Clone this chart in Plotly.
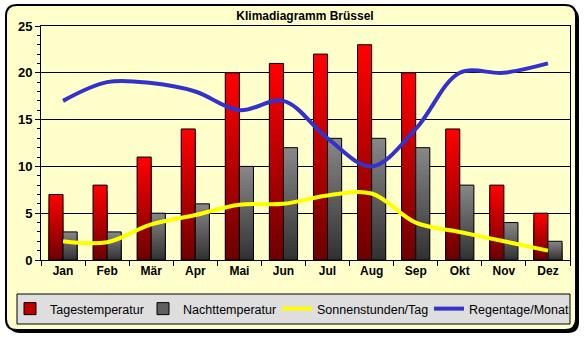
import plotly.graph_objects as go

months = ["Jan", "Feb", "Mär", "Apr", "Mai", "Jun", "Jul", "Aug", "Sep", "Okt", "Nov", "Dez"]
tages = [7, 8, 11, 14, 20, 21, 22, 23, 20, 14, 8, 5]
nacht = [3, 3, 5, 6, 10, 12, 13, 13, 12, 8, 4, 2]
sonne = [2, 1.9, 3.8, 4.8, 5.9, 6, 6.9, 7.1, 4, 3, 2, 1]
regen = [17, 19, 18.9, 18, 16, 17, 13, 10, 14, 20, 20, 21]

W, H = 588, 337
L, R, T, B = 41, 570, 26, 260


def px(x):
    return (x - L) / (R - L)


def py(y):
    return (B - y) / (B - T)


def interp(c1, c2, t):
    return "rgb(%d,%d,%d)" % tuple(round(a + (b - a) * t) for a, b in zip(c1, c2))


fig = go.Figure()
N = 30
series = [
    (tages, -0.32, (255, 0, 0), (110, 0, 0)),
    (nacht, 0.0, (135, 135, 135), (50, 50, 50)),
]
for vals, off, ctop, cbot in series:
    for k in range(N):
        fig.add_trace(go.Bar(
            x=months, y=[v * (N - k) / N for v in vals], offset=off, width=0.32,
            marker=dict(color=interp(ctop, cbot, k / (N - 1)), line=dict(width=0)),
            showlegend=False, hoverinfo="skip"))
    fig.add_trace(go.Bar(
        x=months, y=vals, offset=off, width=0.32,
        marker=dict(color="rgba(0,0,0,0)", line=dict(color="black", width=1)),
        showlegend=False, hoverinfo="skip"))

fig.add_trace(go.Bar(x=[None], y=[None], name="Tagestemperatur", legend="legend",
                     marker=dict(color="#C00000", line=dict(color="black", width=1))))
fig.add_trace(go.Bar(x=[None], y=[None], name="Nachttemperatur", legend="legend2",
                     marker=dict(color="#606060", line=dict(color="black", width=1))))
fig.add_trace(go.Scatter(x=months, y=sonne, name="Sonnenstunden/Tag", mode="lines", legend="legend3",
                         line=dict(color="#FFFF00", width=4, shape="spline", smoothing=1)))
fig.add_trace(go.Scatter(x=months, y=regen, name="Regentage/Monat", mode="lines", legend="legend4",
                         line=dict(color="#3333CC", width=4, shape="spline", smoothing=1)))


def rounded(x0, y0, x1, y1, r):
    pts = [
        ("M", (x0 + r, y0)), ("L", (x1 - r, y0)), ("Q", (x1, y0), (x1, y0 + r)),
        ("L", (x1, y1 - r)), ("Q", (x1, y1), (x1 - r, y1)),
        ("L", (x0 + r, y1)), ("Q", (x0, y1), (x0, y1 - r)),
        ("L", (x0, y0 + r)), ("Q", (x0, y0), (x0 + r, y0)),
    ]
    s = ""
    for p in pts:
        s += p[0] + " ".join("%.5f,%.5f" % (px(a), py(b)) for a, b in p[1:]) + " "
    return s + "Z"


shapes = [
    dict(type="path", path=rounded(9, 8, 579, 333, 11), xref="paper", yref="paper",
         fillcolor="black", line=dict(width=0), layer="below"),
    dict(type="path", path=rounded(6, 5, 576, 330, 11), xref="paper", yref="paper",
         fillcolor="#FFFFCC", line=dict(color="black", width=2), layer="below"),
    dict(type="rect", x0=px(17), x1=px(570), y0=py(294), y1=py(324), xref="paper", yref="paper",
         fillcolor="#DEDEDE", line=dict(color="black", width=1), layer="below"),
]


def leg(xpix):
    return dict(orientation="h", xref="container", yref="container",
                x=xpix / W, xanchor="left", y=1 - 309 / H, yanchor="middle",
                bgcolor="rgba(0,0,0,0)", borderwidth=0, font=dict(size=12.5),
                itemwidth=30)


fig.update_layout(
    width=W, height=H,
    margin=dict(l=L, r=W - R, t=T, b=H - B, pad=0, autoexpand=False),
    paper_bgcolor="white",
    plot_bgcolor="#C0C0C0",
    barmode="overlay",
    shapes=shapes,
    font=dict(family="Arial, Liberation Sans, sans-serif", color="black"),
    title=dict(text="<b>Klimadiagramm Brüssel</b>", x=px(305), xref="paper", xanchor="center",
               y=1 - 16 / H, yref="container", yanchor="middle", font=dict(size=12)),
    xaxis=dict(type="category", range=[-0.5, 11.5], showline=True, mirror=True,
               linecolor="black", linewidth=1, ticks="outside", tickson="boundaries",
               ticklen=5, tickcolor="black", showgrid=False,
               tickfont=dict(size=12, family="Arial, Liberation Sans, sans-serif"),
               tickprefix="<b>", ticksuffix="</b>"),
    yaxis=dict(range=[0, 25], dtick=5, showline=True, mirror=True, linecolor="black",
               linewidth=1, ticks="outside", ticklen=5, tickcolor="black",
               showgrid=True, gridcolor="black", gridwidth=1, zeroline=False,
               minor=dict(dtick=1, ticks="outside", ticklen=3, tickcolor="black", showgrid=False),
               tickfont=dict(size=13), tickprefix="<b>", ticksuffix="</b>"),
    legend=leg(10),
    legend2=leg(143),
    legend3=leg(277),
    legend4=leg(429),
    showlegend=True,
)

fig.write_html("out.html")
